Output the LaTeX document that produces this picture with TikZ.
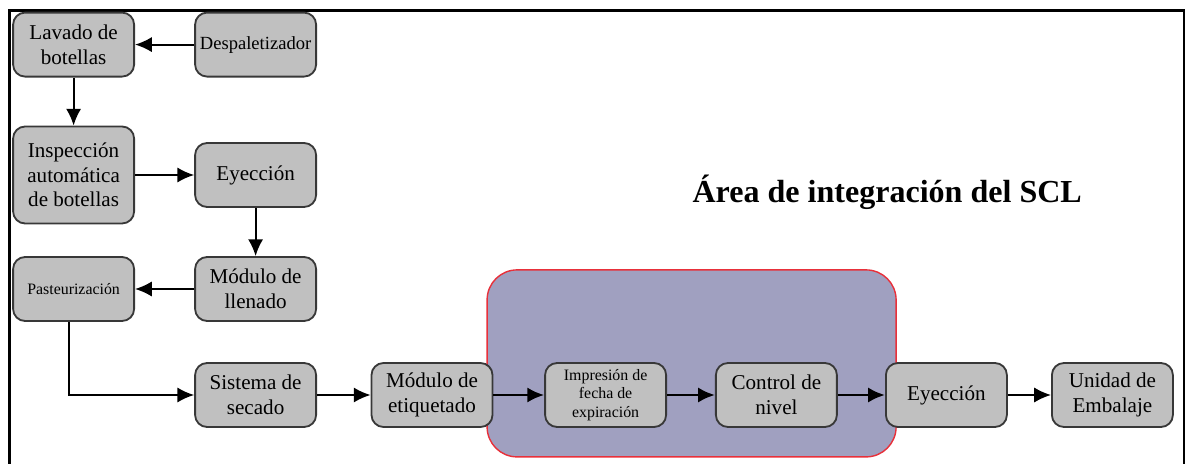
\documentclass[tikz,border=0pt]{standalone}
\usepackage{fontspec}
\setmainfont{Liberation Serif}
\usepackage{tikz}
\usetikzlibrary{shapes, arrows, arrows.meta, positioning}
\definecolor{boxgray}{HTML}{C0C0C0}
\definecolor{boxline}{HTML}{383838}
\definecolor{sclfill}{HTML}{A0A0C0}
\definecolor{sclline}{HTML}{E8303A}
\tikzstyle{->}    = [draw, -{Latex[length=0.42cm, width=0.38cm]}, line width=1.4pt]
\tikzstyle{heavy} = [line width=2.1pt]
\tikzstyle{o}     = [draw=boxline, fill=boxgray, rounded corners=0.3cm, line width=1.3pt,
                     minimum width=3.025cm, minimum height=1.6cm, inner sep=0pt, align=center,
                     font=\fontsize{15}{17.5}\selectfont]
\tikzstyle{os}    = [o, font=\fontsize{11.3}{13}\selectfont]
\tikzstyle{area}  = [draw=sclline, fill=sclfill, rounded corners=0.75cm, line width=1pt,
                     minimum width=10.225cm, minimum height=4.675cm]
\tikzstyle{title} = [anchor=base, font=\fontsize{22.8}{26}\selectfont\bfseries]

\begin{document}
\begin{tikzpicture}[]

\useasboundingbox (0,0) rectangle (29.65,11.575);

% frame
\draw [line width=2pt] (0.243,-0.2) |- (29.6,11.31) -- (29.6,-0.2);

% nodes
\node [area]                                 at ( 17.29,  2.49 ) (scl)     {};
\node [title]                                at ( 22.18,  6.5  ) (sclname) {Área de integración del SCL};

\node [o]                                    at (  1.84, 10.46 ) (lavado)  {Lavado de\\botellas};
\node [o, font=\fontsize{13.2}{15}\selectfont] at (  6.39, 10.46 ) (desp)    {Despaletizador};
\node [o, minimum height=2.425cm]            at (  1.84,  7.2  ) (insp)    {Inspección\\automática\\de botellas};
\node [o]                                    at (  6.39,  7.2  ) (eyec)    {Eyección};
\node [o]                                    at (  6.39,  4.35 ) (llenado) {Módulo de\\llenado};
\node [os]                                   at (  1.84,  4.35 ) (pasteur) {Pasteurización};
\node [o]                                    at (  6.39,  1.7  ) (secado)  {Sistema de\\secado};
\node [o]                                    at ( 10.8 ,  1.7  ) (etiq)    {Módulo de\\etiquetado};
\node [os]                                   at ( 15.14,  1.7  ) (impr)    {Impresión de\\fecha de\\expiración};
\node [o]                                    at ( 19.41,  1.7  ) (control) {Control de\\nivel};
\node [o]                                    at ( 23.66,  1.7  ) (eyecb)   {Eyección};
\node [o]                                    at ( 27.81,  1.7  ) (unidad)  {Unidad de\\Embalaje};

%  edges
\path [->]
  (desp)    edge         (lavado)
  (lavado)  edge         (insp)
  (insp)    edge         (eyec)
  (eyec)    edge         (llenado)
  (llenado) edge         (pasteur)
  (secado)  edge         (etiq)
  (etiq)    edge [heavy] (impr)
  (impr)    edge [heavy] (control)
  (control) edge [heavy] (eyecb)
  (eyecb)   edge         (unidad);

\draw [->] ([xshift=-0.11cm]pasteur.south) |- (secado.west);

\end{tikzpicture}
\end{document}
